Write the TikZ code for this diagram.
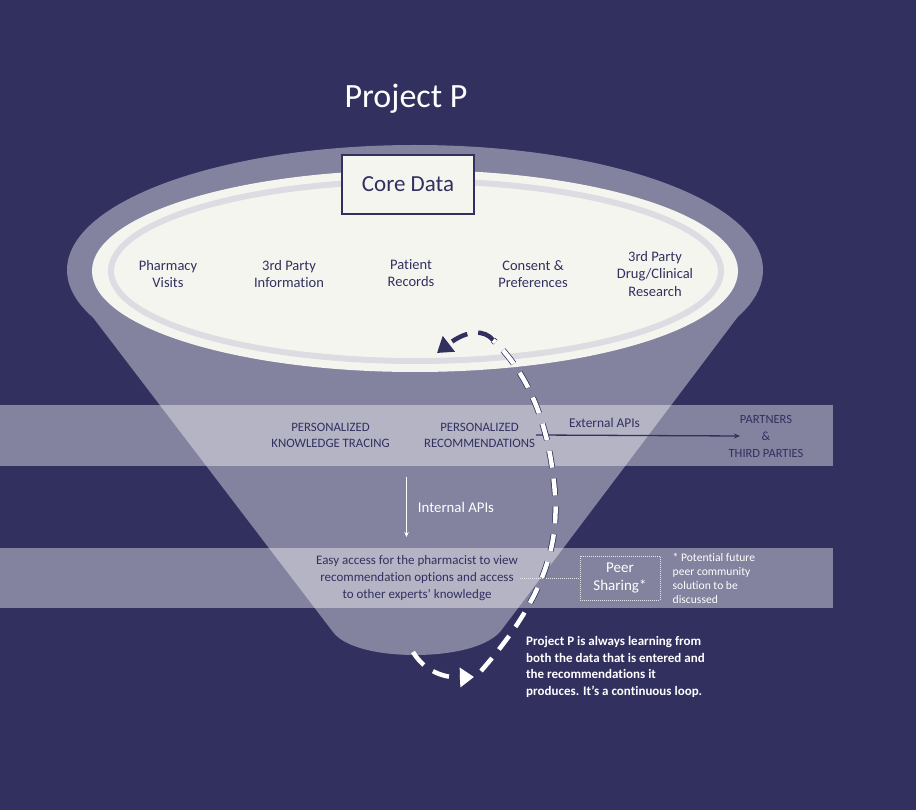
\documentclass[tikz,border=0pt]{standalone}
\usepackage{fontspec}
\setmainfont{Carlito}[Ligatures={TeX,NoCommon}]
\usetikzlibrary{arrows.meta}
\definecolor{projnavy}{RGB}{49,48,95}
\definecolor{funnelgray}{RGB}{131,130,159}
\definecolor{ovalwhite}{RGB}{245,245,240}
\definecolor{ringgray}{RGB}{220,220,226}
\tikzset{
  ovallabel/.style={text=projnavy, align=center, font=\fontsize{14.5}{17.5}\selectfont},
  bandlabel/.style={text=projnavy, align=center, inner sep=1pt, font=\fontsize{12.8}{16}\selectfont},
  notelabel/.style={text=white, align=left, anchor=west, inner sep=0pt},
  bandstrip/.style={fill=white, fill opacity=0.4},
  loopline/.style={line width=4.5pt, dash pattern=on 17pt off 11pt},
  peerdots/.style={draw=white!80!funnelgray, line width=0.9pt, dash pattern=on 1pt off 1pt},
}
\begin{document}
\begin{tikzpicture}[x=1pt,y=-1pt]
		\fill[projnavy] (0,0) rectangle (916,810);
		
		\fill[funnelgray] (72,290) -- (333,632) .. controls (345,648) and (380,655) .. (415,655) .. controls (450,655) and (485,648) .. (500,632) -- (758,290) -- cycle;
		\fill[funnelgray] (415,270) ellipse [x radius=348pt, y radius=125pt];
		\fill[ovalwhite] (415,271) ellipse [x radius=323pt, y radius=101pt];
		\draw[ringgray, line width=6pt] (416,271) ellipse [x radius=305pt, y radius=90pt];
		
		\fill[bandstrip] (0,405) rectangle (833,466);
		\fill[bandstrip] (0,548) rectangle (833,608);
		
		\node[text=white, font=\fontsize{34}{40}\selectfont] (title) at (406,99) {Project P};
		\node[draw=projnavy, line width=1.2pt, fill=ovalwhite, minimum width=132pt, minimum height=59pt, text=projnavy, font=\fontsize{23}{28}\selectfont] (core) at (408,184.5) {Core Data};
		
		\node[ovallabel] (visits) at (168,274) {Pharmacy\\Visits};
		\node[ovallabel] (thirdinfo) at (289,274) {3rd Party\\Information};
		\node[ovallabel] (records) at (411,273) {Patient\\Records};
		\node[ovallabel] (consent) at (533,274) {Consent \&\\Preferences};
		\node[ovallabel] (research) at (655,274) {3rd Party\\Drug/Clinical\\Research};
		
		\node[bandlabel] (tracing) at (330.5,435) {PERSONALIZED\\KNOWLEDGE TRACING};
		\node[bandlabel] (recs) at (479.5,435) {PERSONALIZED\\RECOMMENDATIONS};
		\node[bandlabel, font=\fontsize{13.4}{16}\selectfont] (extapi) at (604.5,423) {External APIs};
		\node[bandlabel, font=\fontsize{12.5}{17}\selectfont] (partners) at (766,436) {PARTNERS\\\&\\THIRD PARTIES};
		\coordinate (partnersin) at (740,436);
		\draw[projnavy, line width=1.3pt, -{Stealth[length=6pt,width=5pt]}] (recs.east) -- (partnersin);
		
		\coordinate (intfrom) at (406.5,477);
		\coordinate (intto) at (406.5,537);
		\draw[white, line width=1pt, -{Stealth[length=5pt,width=4.5pt]}] (intfrom) -- (intto);
		\node[text=white, font=\fontsize{14.8}{18}\selectfont] (intapi) at (456,507) {Internal APIs};
		
		\node[bandlabel, inner sep=2pt, font=\fontsize{13}{17}\selectfont] (easy) at (417,578) {Easy access for the pharmacist to view\\recommendation options and access\\to other experts’ knowledge};
		\node[peerdots, minimum width=80pt, minimum height=44pt, text=white, align=center, font=\fontsize{15}{18}\selectfont] (peer) at (620,578) {Peer\\Sharing*};
		\draw[peerdots] (easy.east) -- (peer.west);
		\node[notelabel, font=\fontsize{11.6}{14}\selectfont] (footnote) at (672.5,578) {* Potential future\\peer community\\solution to be\\discussed};
		\node[notelabel, font=\bfseries\fontsize{13}{16.5}\selectfont] (loopnote) at (526,667) {Project P is always learning from\\both the data that is entered and\\the recommendations it\\produces. It’s a continuous loop.};
		
		\coordinate (loopA0) at (413,652);
		\coordinate (loopA1) at (474,677);
		\coordinate (loopB0) at (481,671);
		\coordinate (loopB1) at (555,495);
		\coordinate (loopB2) at (493,340);
		\coordinate (loopB3) at (437,353);
		\draw[white, loopline, -{Triangle[length=14pt,width=19pt]}] (loopA0) .. controls (425,672) and (445,678) .. (loopA1);
		\draw[projnavy, loopline, line width=6pt] (loopB0) .. controls (530,615) and (560,560) .. (loopB1) .. controls (550,420) and (525,370) .. (loopB2);
		\draw[white, loopline] (loopB0) .. controls (530,615) and (560,560) .. (loopB1) .. controls (550,420) and (525,370) .. (loopB2);
		\draw[projnavy, loopline, -{Triangle[length=15pt,width=19pt]}] (loopB2) .. controls (485,330) and (468,329) .. (loopB3);
		
		\end{tikzpicture}
\end{document}
